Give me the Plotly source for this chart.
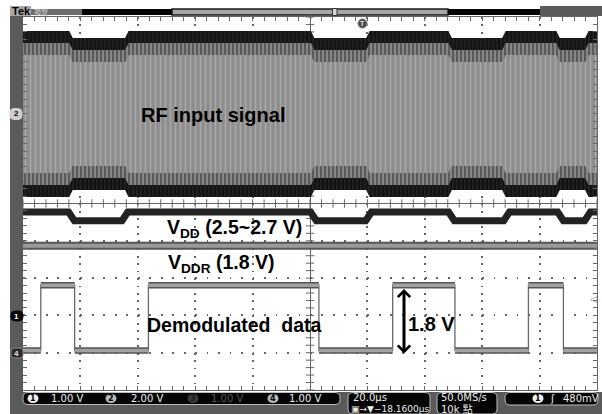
import numpy as np
import plotly.graph_objects as go

# ---------------- data ----------------
time_range_us = [-100.0, 100.0]          # 20 us/div, 10 divisions
div_range = [-5.0, 5.0]

ch_scale_v = {"1": 1.00, "2": 2.00, "3": 1.00, "4": 1.00}
ch_offset_div = {"1": -3.02, "2": 2.40, "4": -4.01}

# RF input (ch2): envelope switching instants and peak amplitude of each segment
rf_switch_us = [-83.3, -63.8, 0.9, 20.2, 48.8, 67.6, 86.4, 96.5]
rf_peak_v = [4.45, 4.08, 4.45, 4.08, 4.45, 4.08, 4.45, 4.08, 4.45]

# VDD (ch1 scale) follows the RF envelope
vdd_switch_us = [-83.1, -64.5, 1.2, 20.4, 49.3, 68.5, 87.3, 96.7]
vdd_level_v = [2.79, 2.56, 2.79, 2.56, 2.79, 2.56, 2.79, 2.56, 2.79]

# VDDR (ch1 scale)
vddr_level_v = [1.89, 1.89]

# Demodulated data (ch4)
data_edges_us = [-93.8, -82.0, -56.3, 3.1, 28.8, 50.5, 76.1, 88.3]
data_bits = [0, 1, 0, 1, 0, 1, 0, 1, 0]
data_level_v = {0: 0.07, 1: 1.82}

ch_labels = ["1.00 V", "2.00 V", "1.00 V", "1.00 V"]
timebase_label = "20.0µs"
trig_pos_label = "▣→▼−18.1600µs"
rate_label = "50.0MS/s"
record_label = "10k 點"
trig_level_label = "480mV"

# ---------------- geometry / style ----------------
W, H = 602, 414
L, R, T, B = 23, 5, 17, 24
PW, PH = W - L - R, H - T - B
PXDIV = PH / 10.0
GRID = "#666666"
FRAME = "#5a5a5a"
SANS = "Liberation Sans, Arial, sans-serif"
MONO = "DejaVu Sans, Noto Sans CJK TC, sans-serif"


def X(px):
    return (px - L) / PW


def Y(py):
    return (T + PH - py) / PH


def v2div(v, ch):
    return ch_offset_div[ch] + np.asarray(v, dtype=float) / ch_scale_v[ch]


def step_path(edges, levels, ramp):
    xs = [time_range_us[0]]
    ys = [levels[0]]
    for e, a, b in zip(edges, levels[:-1], levels[1:]):
        xs += [e - ramp / 2, e + ramp / 2]
        ys += [a, b]
    xs.append(time_range_us[1])
    ys.append(levels[-1])
    return np.array(xs), np.array(ys, dtype=float)


def band(t, ya, yb):
    return np.concatenate([t, t[::-1]]), np.concatenate([ya, yb[::-1]])


fig = go.Figure()

# centre-axis tick crosses (graticule decoration)
gx = np.arange(-100, 100.01, 4)
gy = np.arange(-5, 5.001, 0.2)
fig.add_trace(go.Scatter(x=gx, y=np.zeros_like(gx), mode="markers",
                         marker=dict(symbol="line-ns", size=6, line=dict(width=1, color=GRID)),
                         hoverinfo="skip", showlegend=False))
fig.add_trace(go.Scatter(x=np.zeros_like(gy), y=gy, mode="markers",
                         marker=dict(symbol="line-ew", size=6, line=dict(width=1, color=GRID)),
                         hoverinfo="skip", showlegend=False))

# ---- RF carrier ----
t_rf, amp = step_path(rf_switch_us, rf_peak_v, 1.2)
up = ch_offset_div["2"] + amp / ch_scale_v["2"]
lo = ch_offset_div["2"] - amp / ch_scale_v["2"]
d1 = 12 / PXDIV
d2 = 24 / PXDIV


def add_poly(xp, yp, color, pattern=None):
    fig.add_trace(go.Scatter(x=xp, y=yp, mode="lines", fill="toself", fillcolor=color,
                             fillpattern=pattern, line=dict(width=0, color="rgba(0,0,0,0)"),
                             hoverinfo="skip", showlegend=False))


xp, yp = band(t_rf, up, lo)
add_poly(xp, yp, "#8e8e8e", dict(shape="|", size=5, solidity=0.3, fgcolor="#c4c4c4", bgcolor="#8e8e8e"))
xp, yp = band(t_rf, up - d1, up - d2)
add_poly(xp, yp, "#555555", dict(shape="|", size=4, solidity=0.45, fgcolor="#202020", bgcolor="#868686"))
xp, yp = band(t_rf, lo + d1, lo + d2)
add_poly(xp, yp, "#555555", dict(shape="|", size=4, solidity=0.45, fgcolor="#202020", bgcolor="#868686"))
xp, yp = band(t_rf, up, up - d1)
add_poly(xp, yp, "#171717", dict(shape="|", size=4, solidity=0.2, fgcolor="#4a4a4a", bgcolor="#141414"))
xp, yp = band(t_rf, lo, lo + d1)
add_poly(xp, yp, "#171717", dict(shape="|", size=4, solidity=0.2, fgcolor="#4a4a4a", bgcolor="#141414"))

# ---- VDD ----
t_vdd, vdd = step_path(vdd_switch_us, vdd_level_v, 2.0)
fig.add_trace(go.Scatter(x=t_vdd, y=v2div(vdd, "1"), mode="lines",
                         line=dict(width=7, color="#222222"), hoverinfo="skip", showlegend=False))

# ---- VDDR ----
fig.add_trace(go.Scatter(x=time_range_us, y=v2div(vddr_level_v, "1"), mode="lines",
                         line=dict(width=8, color="#555555"), hoverinfo="skip", showlegend=False))
fig.add_trace(go.Scatter(x=time_range_us, y=v2div(vddr_level_v, "1"), mode="lines",
                         line=dict(width=4, color="#9a9a9a"), hoverinfo="skip", showlegend=False))

# ---- Demodulated data ----
levels = [data_level_v[b] for b in data_bits]
t_d, d_v = step_path(data_edges_us, levels, 0.0)
fig.add_trace(go.Scatter(x=t_d, y=v2div(d_v, "4"), mode="lines",
                         line=dict(width=1.3, color="#6a6a6a"), hoverinfo="skip", showlegend=False))
bounds = [time_range_us[0]] + data_edges_us + [time_range_us[1]]
sx, sy = [], []
for i, lv in enumerate(levels):
    sx += [bounds[i], bounds[i + 1], None]
    sy += [float(v2div(lv, "4")), float(v2div(lv, "4")), None]
fig.add_trace(go.Scatter(x=sx, y=sy, mode="lines", line=dict(width=6.5, color="#555555"),
                         hoverinfo="skip", showlegend=False))
fig.add_trace(go.Scatter(x=sx, y=sy, mode="lines", line=dict(width=3.5, color="#a2a2a2"),
                         hoverinfo="skip", showlegend=False))

# ---------------- frame / status bars ----------------
shapes = []


def rect(x0, y0, x1, y1, fill, line=None, lw=0):
    shapes.append(dict(type="rect", xref="paper", yref="paper", x0=X(x0), x1=X(x1), y0=Y(y1), y1=Y(y0),
                       fillcolor=fill, line=dict(width=lw, color=line or fill), layer="above"))


def rrect(x0, y0, x1, y1, r, fill, line, lw=1):
    p = (f"M{X(x0 + r)},{Y(y0)} L{X(x1 - r)},{Y(y0)} Q{X(x1)},{Y(y0)} {X(x1)},{Y(y0 + r)} "
         f"L{X(x1)},{Y(y1 - r)} Q{X(x1)},{Y(y1)} {X(x1 - r)},{Y(y1)} L{X(x0 + r)},{Y(y1)} "
         f"Q{X(x0)},{Y(y1)} {X(x0)},{Y(y1 - r)} L{X(x0)},{Y(y0 + r)} Q{X(x0)},{Y(y0)} {X(x0 + r)},{Y(y0)} Z")
    shapes.append(dict(type="path", xref="paper", yref="paper", path=p, fillcolor=fill,
                       line=dict(width=lw, color=line), layer="above"))


def circ(cx, cy, rx, ry, fill, line=None):
    shapes.append(dict(type="circle", xref="paper", yref="paper", x0=X(cx - rx), x1=X(cx + rx),
                       y0=Y(cy + ry), y1=Y(cy - ry), fillcolor=fill,
                       line=dict(width=1 if line else 0, color=line or fill), layer="above"))


# left frame, bottom frame, top bars
rect(10, 6, 23, 414, FRAME)
rect(10, 392, 602, 414, FRAME)
rect(10, 6, 31, 16, "#a8a8a8")
rect(31, 9, 82, 15, "#6c6c6c")
rect(82, 9, 172, 15, "#050505")
rect(172, 9, 448, 15, "#a6a6a6", "#1a1a1a", 1.5)
rect(332.5, 8.5, 337, 15.5, "#d8d8d8", "#333333", 1)
rect(448, 9, 540, 15, "#050505")
rect(540, 6, 602, 16, FRAME)

# bottom readout boxes
rrect(23, 392.5, 340, 404.5, 5, "#050505", "#bdbdbd")
rrect(348, 392.5, 430, 414, 5, "#050505", "#bdbdbd")
rrect(437, 392.5, 497, 414, 5, "#050505", "#bdbdbd")
rrect(505, 392.5, 598, 405, 5, "#050505", "#bdbdbd")

ann = []


def txt(px, py, s, size, color, family=SANS, xanchor="center", bg=None):
    ann.append(dict(x=X(px), y=Y(py), xref="paper", yref="paper", text=s, showarrow=False,
                    xanchor=xanchor, yanchor="middle", font=dict(size=size, color=color, family=family),
                    bgcolor=bg, borderpad=0))


badge_x = [33, 111, 193, 273]
badge_fill = ["#f0f0f0", "#b8b8b8", "#3c3c3c", "#b8b8b8"]
badge_txt = ["#000000", "#000000", "#1a1a1a", "#000000"]
lab_x = [50, 130, 210, 288]
lab_col = ["#ececec", "#ececec", "#555555", "#ececec"]
for i in range(4):
    circ(badge_x[i], 398.5, 5.5, 4.5, badge_fill[i])
    txt(badge_x[i], 398.8, f"<b>{i + 1}</b>", 8, badge_txt[i], MONO)
    txt(lab_x[i], 398.5, ch_labels[i], 10, lab_col[i], MONO, "left")

txt(352, 397.5, timebase_label, 10, "#ececec", MONO, "left")
txt(350, 409, trig_pos_label, 9, "#ececec", MONO, "left")
txt(440, 397.5, rate_label, 10, "#ececec", MONO, "left")
txt(440, 409, record_label, 10, "#ececec", MONO, "left")
circ(538, 398.5, 5.5, 4.5, "#f0f0f0")
txt(538, 398.8, "<b>1</b>", 8, "#000000", MONO)
txt(552, 398.5, "ʃ", 10, "#ececec", MONO)
txt(562, 398.5, trig_level_label, 10, "#ececec", MONO, "left")

# top readouts
txt(11, 11, "<b>Tek</b>", 11, "#000000", SANS, "left")
txt(33, 12, "預覽", 7, "#c8c8c8", "Noto Sans CJK TC", "left")
circ(362.5, 23.5, 4.8, 4.8, "#4a4a4a", "#bbbbbb")
txt(362.5, 23.8, "<b>T</b>", 7, "#e0e0e0", SANS)
txt(310.5, 16.5, "▽", 7, "#555555", MONO)

# channel position markers
rrect(10, 108.5, 22, 119.5, 4, "#cfcfcf", "#cfcfcf")
txt(16, 114, "<b>2</b>", 8, "#000000", SANS)
rrect(11, 311, 23, 321, 4, "#0a0a0a", "#0a0a0a")
txt(16.5, 316, "<b>1</b>", 8, "#ffffff", SANS)
rrect(11, 348, 23, 358, 3, "#2a2a2a", "#888888")
txt(16.5, 353, "<b>4</b>", 8, "#e0e0e0", SANS)
txt(593, 299, "◁", 9, "#888888", MONO)

# chart labels
txt(212.5, 115, "<b>RF input signal</b>", 20, "#000000")
txt(166, 228.5, "<b>V<sub>DD</sub> (2.5~2.7 V)</b>", 19.5, "#000000", SANS, "left")
txt(167, 263.5, "<b>V<sub>DDR</sub> (1.8 V)</b>", 19.5, "#000000", SANS, "left")
txt(146, 324.5, "<b>Demodulated\u00a0 data</b>", 19.5, "#000000", SANS, "left")
txt(407, 324, "<b>1.8 V</b>", 20, "#000000", SANS, "left")
ann.append(dict(x=X(404), y=Y(289), xref="paper", yref="paper", showarrow=True, ax=0, ay=66,
                arrowside="end+start", arrowhead=4, startarrowhead=4, arrowsize=0.8,
                startarrowsize=0.8, arrowwidth=3, arrowcolor="#000000", standoff=0, startstandoff=0,
                text=""))

axis_common = dict(showticklabels=False, showline=True, linecolor=GRID, linewidth=1,
                   mirror="ticks", ticks="inside", ticklen=4, tickcolor=GRID, tickwidth=1,
                   zeroline=True, zerolinecolor=GRID, zerolinewidth=1, gridcolor=GRID,
                   gridwidth=1.8, fixedrange=True)

fig.update_layout(
    width=W, height=H, margin=dict(l=L, r=R, t=T, b=B, pad=0),
    paper_bgcolor="#ffffff", plot_bgcolor="#ffffff", showlegend=False,
    xaxis=dict(range=time_range_us, dtick=20, tick0=0,
               griddash=f"1.8px,{PH / 50 - 1.8:.3f}px",
               minor=dict(dtick=4, ticks="inside", ticklen=4, tickcolor=GRID, showgrid=False),
               **axis_common),
    yaxis=dict(range=div_range, dtick=1, tick0=0,
               griddash=f"1.8px,{PW / 50 - 1.8:.3f}px",
               minor=dict(dtick=0.2, ticks="inside", ticklen=4, tickcolor=GRID, showgrid=False),
               **axis_common),
    shapes=shapes, annotations=ann,
)

fig.write_html("out.html", config={"displayModeBar": False},
               post_script="document.body.style.margin='0';document.body.style.overflow='hidden';")
